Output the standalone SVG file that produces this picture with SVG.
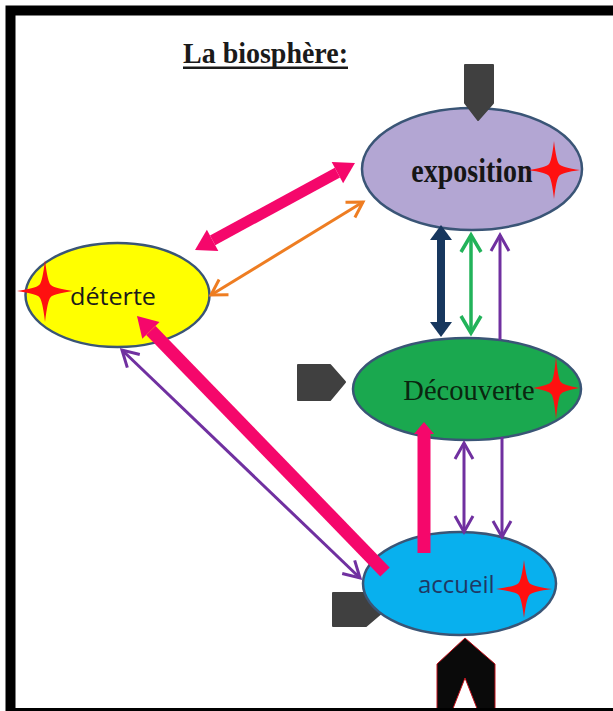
<svg xmlns="http://www.w3.org/2000/svg" xmlns:xlink="http://www.w3.org/1999/xlink" width="613" height="711" viewBox="0 0 613 711">
<style>
.ell{stroke:#3a5576;stroke-width:2.5}
.star{fill:#ff1010}
.ptr{fill:#404040;stroke:#404040;stroke-width:2;stroke-linejoin:round}
.pink{stroke:#f5076b;fill:none}
.thin{fill:none;stroke-width:3}
.serif{font-family:"Liberation Serif","Times New Roman",serif}
.sans{font-family:"Open Sans","Liberation Sans",sans-serif}
</style>
<defs>
<path id="star" d="M-1,0 Q-0.3,-0.09 -0.2,-0.2 Q-0.09,-0.3 0,-1 Q0.09,-0.3 0.2,-0.2 Q0.3,-0.09 1,0 Q0.3,0.09 0.2,0.2 Q0.09,0.3 0,1 Q-0.09,0.3 -0.2,0.2 Q-0.3,0.09 -1,0Z"/>
<marker id="hPink" markerUnits="userSpaceOnUse" viewBox="0 -13 21 26" markerWidth="21" markerHeight="26" refX="0" refY="0" orient="auto-start-reverse" overflow="visible"><path d="M0,-12 L20,0 L0,12Z" fill="#f5076b"/></marker>
<marker id="hPink2" markerUnits="userSpaceOnUse" viewBox="0 -11 13 22" markerWidth="13" markerHeight="22" refX="0" refY="0" orient="auto-start-reverse" overflow="visible"><path d="M0,-10 L12,0 L0,10Z" fill="#f5076b"/></marker>
<marker id="hNavy" markerUnits="userSpaceOnUse" viewBox="0 -12 16 24" markerWidth="16" markerHeight="24" refX="0" refY="0" orient="auto-start-reverse" overflow="visible"><path d="M0,-11 L15,0 L0,11Z" fill="#17375e"/></marker>
<marker id="vOrange" markerUnits="userSpaceOnUse" viewBox="-18 -12 20 24" markerWidth="20" markerHeight="24" refX="0" refY="0" orient="auto-start-reverse" overflow="visible"><path d="M-15,-9 L0,0 L-15,9" fill="none" stroke="#ee7d22" stroke-width="3"/></marker>
<marker id="vGreen" markerUnits="userSpaceOnUse" viewBox="-18 -12 20 24" markerWidth="20" markerHeight="24" refX="0" refY="0" orient="auto-start-reverse" overflow="visible"><path d="M-17,-10 L0,0 L-17,10" fill="none" stroke="#22b35a" stroke-width="3.5"/></marker>
<marker id="vPurple" markerUnits="userSpaceOnUse" viewBox="-18 -12 20 24" markerWidth="20" markerHeight="24" refX="0" refY="0" orient="auto-start-reverse" overflow="visible"><path d="M-16,-9 L0,0 L-16,9" fill="none" stroke="#7030a0" stroke-width="3"/></marker>
</defs>
<rect width="613" height="711" fill="#ffffff"/>
<g id="title">
<text x="183" y="63" class="serif" font-size="30" font-weight="bold" fill="#1a1a1a" textLength="165" lengthAdjust="spacingAndGlyphs">La biosphère:</text>
<rect x="183" y="66.5" width="165" height="2.5" fill="#1a1a1a"/>
</g>
<g id="pointer-accueil"><polygon class="ptr" points="333,593 366,593 386,609 366,626 333,626"/></g>
<g id="node-exposition">
<ellipse class="ell" cx="472" cy="169" rx="110" ry="61" fill="#b3a6d3"/>
<text transform="translate(472,182) scale(1,1.2)" class="serif" font-size="28" font-weight="bold" text-anchor="middle" fill="#161616">exposition</text>
<use xlink:href="#star" class="star" transform="translate(554,170) scale(26,29)"/>
</g>
<g id="node-detente">
<ellipse class="ell" cx="117.5" cy="295" rx="92" ry="52" fill="#ffff00"/>
<text x="70" y="305" class="sans" font-size="24" fill="#1a1a1a" textLength="86" lengthAdjust="spacingAndGlyphs">déterte</text>
<use xlink:href="#star" class="star" transform="translate(45,291) scale(28,31)"/>
</g>
<g id="node-decouverte">
<ellipse class="ell" cx="467" cy="389" rx="114" ry="51" fill="#1aa84f"/>
<text x="469" y="400" class="serif" font-size="28.5" text-anchor="middle" fill="#0a260f">Découverte</text>
<use xlink:href="#star" class="star" transform="translate(556,388) scale(23,31)"/>
</g>
<g id="node-accueil">
<ellipse class="ell" cx="459.5" cy="583.5" rx="96.5" ry="51.5" fill="#08b0ee"/>
<text x="418" y="593" class="sans" font-size="24" fill="#1f3864">accueil</text>
<use xlink:href="#star" class="star" transform="translate(524,589) scale(28,29)"/>
</g>
<g id="connectors">
<line class="pink" x1="212.6" y1="240.4" x2="337.4" y2="172.6" stroke-width="11" marker-start="url(#hPink)" marker-end="url(#hPink)"/>
<line class="thin" x1="211" y1="295" x2="363" y2="202" stroke="#ee7d22" marker-start="url(#vOrange)" marker-end="url(#vOrange)"/>
<line x1="441" y1="240" x2="441" y2="322" stroke="#17375e" stroke-width="8" marker-start="url(#hNavy)" marker-end="url(#hNavy)"/>
<line x1="471" y1="235" x2="471" y2="333" fill="none" stroke="#22b35a" stroke-width="3.5" marker-start="url(#vGreen)" marker-end="url(#vGreen)"/>
<line class="thin" x1="500" y1="340" x2="500" y2="235" stroke="#7030a0" marker-end="url(#vPurple)"/>
<line class="pink" x1="424" y1="553" x2="424" y2="434" stroke-width="13" marker-end="url(#hPink2)"/>
<line class="thin" x1="464" y1="443" x2="464" y2="532" stroke="#7030a0" marker-start="url(#vPurple)" marker-end="url(#vPurple)"/>
<line class="thin" x1="502" y1="437" x2="502" y2="537" stroke="#7030a0" marker-end="url(#vPurple)"/>
<line class="pink" x1="385" y1="572" x2="150.9" y2="330.4" stroke-width="13" marker-end="url(#hPink)"/>
<line class="thin" x1="122" y1="350" x2="360" y2="578" stroke="#7030a0" marker-start="url(#vPurple)" marker-end="url(#vPurple)"/>
</g>
<g id="pointers">
<polygon class="ptr" points="465,65 493,65 493,103 478,120 465,103"/>
<polygon class="ptr" points="298,365 330,365 345,382 330,400 298,400"/>
<polygon points="465,638 495,664 495,711 478,711 465,678 452,711 437,711 437,664" fill="#0a0a0a" stroke="#c0101a" stroke-width="1"/>
</g>
<g id="frame">
<rect x="10.5" y="10.5" width="620" height="702.5" fill="none" stroke="#000000" stroke-width="10"/>
</g>
</svg>
